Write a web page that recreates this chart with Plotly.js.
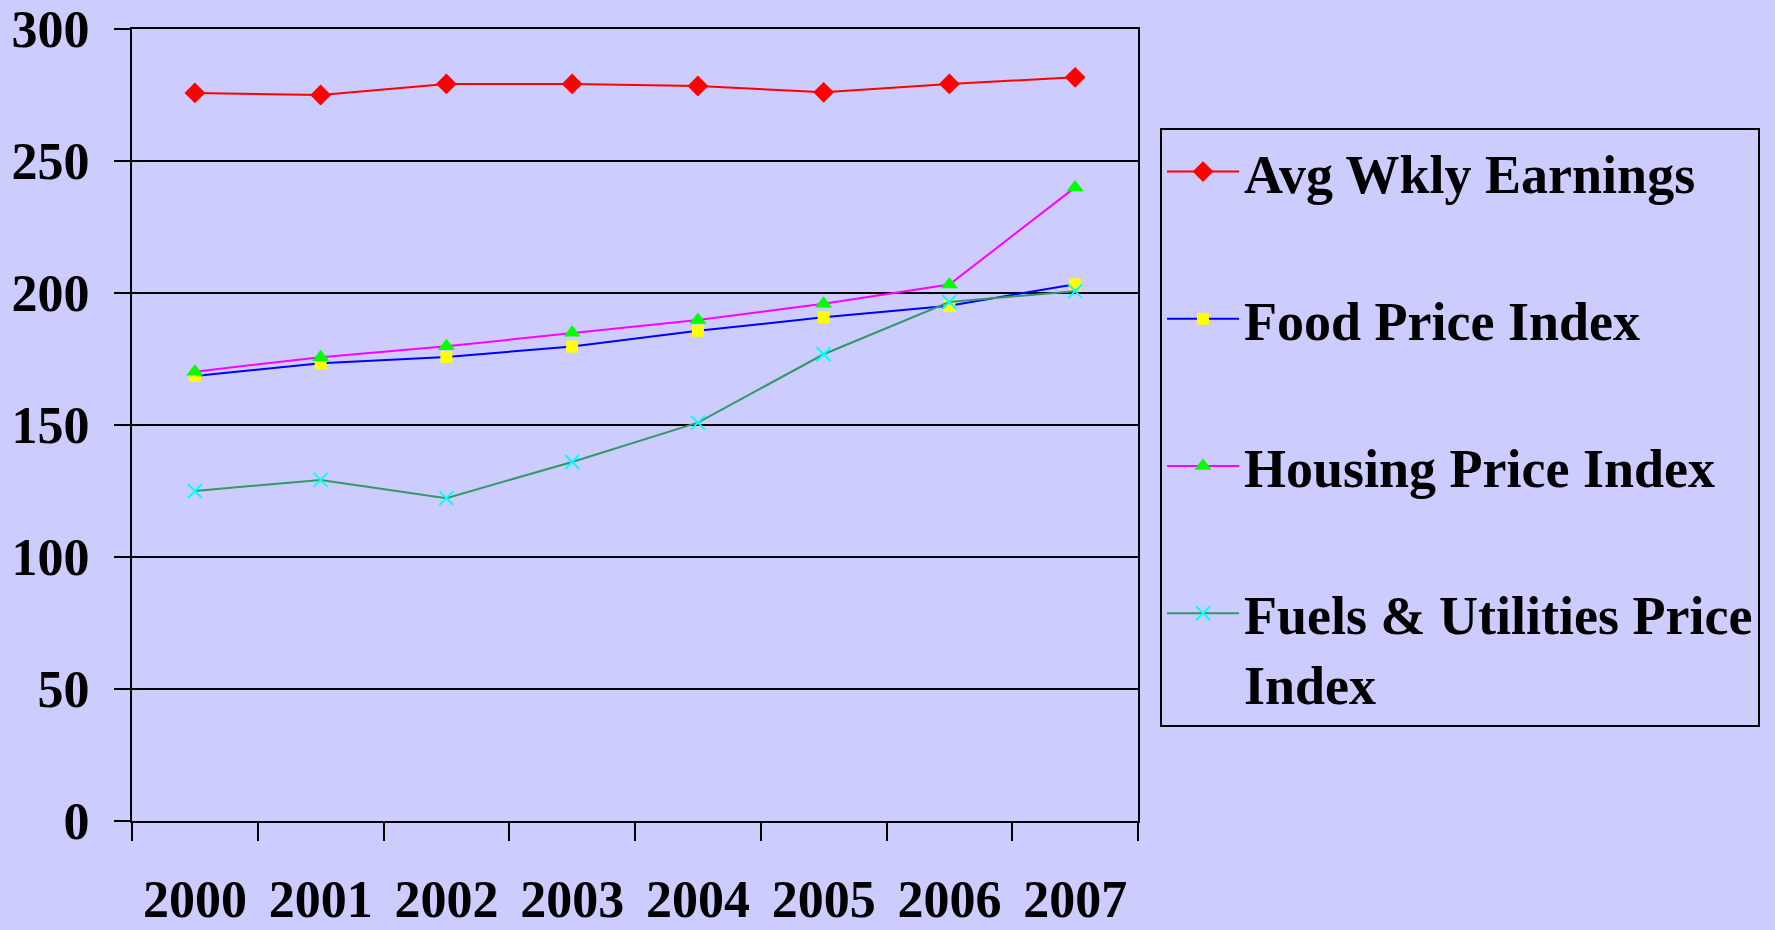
<!DOCTYPE html>
<html>
<head>
<meta charset="utf-8">
<script src="https://cdn.plot.ly/plotly-3.0.1.min.js"></script>
<style>html,body{margin:0;padding:0;background:#CCCCFF;}#chart{width:1775px;height:930px;}</style>
</head>
<body>
<div id="chart"></div>
<script>
const years = ["2000", "2001", "2002", "2003", "2004", "2005", "2006", "2007"];
const seriesNames = ["Avg Wkly Earnings", "Food Price Index", "Housing Price Index", "Fuels & Utilities Price<br>Index"];
const avgWklyEarnings = [275.8, 275.0, 279.2, 279.2, 278.4, 276.0, 279.2, 281.7];
const foodPriceIndex = [168.6, 173.4, 175.8, 179.7, 185.7, 190.8, 195.2, 203.3];
const housingPriceIndex = [170.2, 175.7, 179.8, 184.9, 189.8, 195.9, 203.2, 240.0];
const fuelsUtilitiesPriceIndex = [125.0, 129.2, 122.3, 136.0, 150.9, 176.8, 196.6, 200.7];
const yTicks = [0, 50, 100, 150, 200, 250, 300];

const fontFam = '"Liberation Serif", "Times New Roman", Times, serif';

function tr(name, y, lineColor, symbol, mColor, mSize, mLine) {
  return {
    type: 'scatter', mode: 'lines+markers', x: years, y: y, name: name,
    legendgroup: name,
    line: {color: lineColor, width: 2},
    marker: {symbol: symbol, color: mColor, size: mSize, line: mLine || {width: 0}},
    cliponaxis: false
  };
}

const data = [
  tr(seriesNames[0], avgWklyEarnings, '#FF0000', 'diamond', '#FF0000', 16),
  tr(seriesNames[1], foodPriceIndex, '#0000FF', 'square', '#FFFF00', 12),
  tr(seriesNames[2], housingPriceIndex, '#FF00FF', 'triangle-up', '#00FF00', 15),
  tr(seriesNames[3], fuelsUtilitiesPriceIndex, '#339966', 'x-thin-open', '#00FFFF', 14, {color: '#00FFFF', width: 2})
];

const layout = {
  width: 1775, height: 930,
  paper_bgcolor: '#CCCCFF', plot_bgcolor: '#CCCCFF',
  margin: {l: 132, r: 637, t: 29, b: 109},
  font: {family: fontFam, color: '#000000', size: 52, weight: 'bold'},
  showlegend: true,
  legend: {
    x: 1.0219, y: 0.875, xanchor: 'left', yanchor: 'top',
    bgcolor: '#CCCCFF', bordercolor: '#000000', borderwidth: 2,
    font: {family: fontFam, size: 54, color: '#000000', weight: 'bold'},
    traceorder: 'grouped', tracegroupgap: 74, valign: 'top', itemwidth: 72
  },
  xaxis: {
    type: 'category', tickson: 'boundaries',
    ticks: 'outside', ticklen: 18, tickwidth: 2, tickcolor: '#000',
    showline: true, linecolor: '#000', linewidth: 2, mirror: true,
    showgrid: false, zeroline: false,
    tickfont: {family: fontFam, size: 52, color: '#000', weight: 'bold'},
    ticklabelstandoff: 32,
    range: [-0.5, 7.5]
  },
  yaxis: {
    range: [0, 300], tickmode: 'array', tickvals: yTicks, ticktext: yTicks.map(String),
    ticks: 'outside', ticklen: 16, tickwidth: 2, tickcolor: '#000',
    showline: true, linecolor: '#000', linewidth: 2, mirror: true,
    showgrid: true, gridcolor: '#000', gridwidth: 2, zeroline: false,
    tickfont: {family: fontFam, size: 52, color: '#000', weight: 'bold'},
    ticklabelstandoff: 14
  }
};

Plotly.newPlot('chart', data, layout, {displayModeBar: false, staticPlot: true});
</script>
</body>
</html>
